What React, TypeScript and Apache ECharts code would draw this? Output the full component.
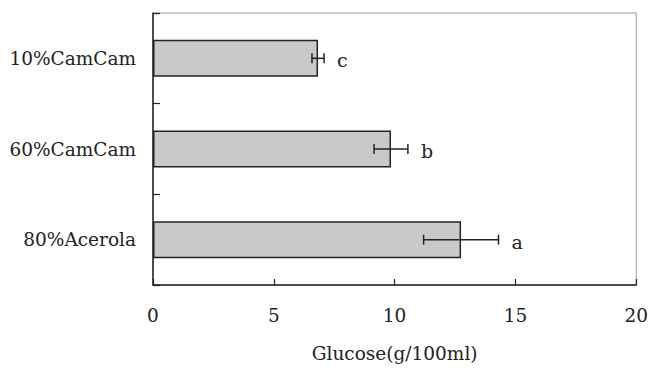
import React, { useEffect, useRef } from "react";
import * as echarts from "echarts";

const categories = ["10%CamCam", "60%CamCam", "80%Acerola"];
const means = [6.83, 9.85, 12.75];
const errors = [0.25, 0.7, 1.55];
const letters = ["c", "b", "a"];
const xTicks = { min: 0, max: 20, interval: 5 };
const xName = "Glucose(g/100ml)";

const FONT = '"DejaVu Serif", serif';

export default function App() {
  const ref = useRef<HTMLDivElement>(null);
  useEffect(() => {
    if (!ref.current) return;
    const chart = echarts.init(ref.current, null, { renderer: "svg" });
    const errData = categories.map((c, i) => [i, means[i] - errors[i], means[i] + errors[i], letters[i]]);
    chart.setOption({
      animation: false,
      backgroundColor: "#ffffff",
      grid: {
        left: 153,
        right: 9.5,
        top: 13,
        bottom: 79,
        show: true,
        borderColor: "#9a9a9a",
        borderWidth: 1,
        backgroundColor: "transparent",
      },
      xAxis: {
        type: "value",
        min: xTicks.min,
        max: xTicks.max,
        interval: xTicks.interval,
        name: xName,
        nameLocation: "middle",
        nameGap: 59,
        nameTextStyle: { fontFamily: FONT, fontSize: 18.5, color: "#222" },
        axisLine: { show: true, lineStyle: { color: "#222", width: 1.5 } },
        axisTick: { show: true, inside: true, length: 6, lineStyle: { color: "#222", width: 1.2 } },
        splitLine: { show: false },
        axisLabel: { margin: 21, fontFamily: FONT, fontSize: 18.5, color: "#222" },
      },
      yAxis: {
        type: "category",
        inverse: true,
        data: categories,
        axisLine: { show: true, lineStyle: { color: "#222", width: 1.5 } },
        axisTick: { show: true, inside: true, length: 7, alignWithLabel: false, lineStyle: { color: "#222", width: 1.2 } },
        splitLine: { show: false },
        axisLabel: { margin: 17, fontFamily: FONT, fontSize: 18.5, color: "#222" },
      },
      series: [
        {
          type: "bar",
          data: means,
          barWidth: 37,
          itemStyle: { color: "#c9c9ca", borderColor: "#222", borderWidth: 1.5 },
          z: 2,
        },
        {
          type: "custom",
          data: errData,
          encode: { y: 0, x: [1, 2] },
          z: 3,
          renderItem: (params: any, api: any) => {
            const cat = api.value(0);
            const lo = api.coord([api.value(1), cat]);
            const hi = api.coord([api.value(2), cat]);
            const y = lo[1];
            const cap = 5;
            const ls = { stroke: "#222", lineWidth: 1.5 };
            return {
              type: "group",
              children: [
                { type: "line", shape: { x1: lo[0], y1: y, x2: hi[0], y2: y }, style: ls },
                { type: "line", shape: { x1: lo[0], y1: y - cap, x2: lo[0], y2: y + cap }, style: ls },
                { type: "line", shape: { x1: hi[0], y1: y - cap, x2: hi[0], y2: y + cap }, style: ls },
                {
                  type: "text",
                  style: {
                    text: letters[params.dataIndex],
                    x: hi[0] + 13,
                    y: y + 2,
                    align: "left",
                    verticalAlign: "middle",
                    font: `19px ${FONT}`,
                    fill: "#222",
                  },
                },
              ],
            };
          },
        },
      ],
    });
    return () => chart.dispose();
  }, []);
  return (
    <div
      ref={ref}
      style={{ position: "fixed", left: 0, top: 0, width: 651, height: 368, background: "#fff" }}
    />
  );
}
